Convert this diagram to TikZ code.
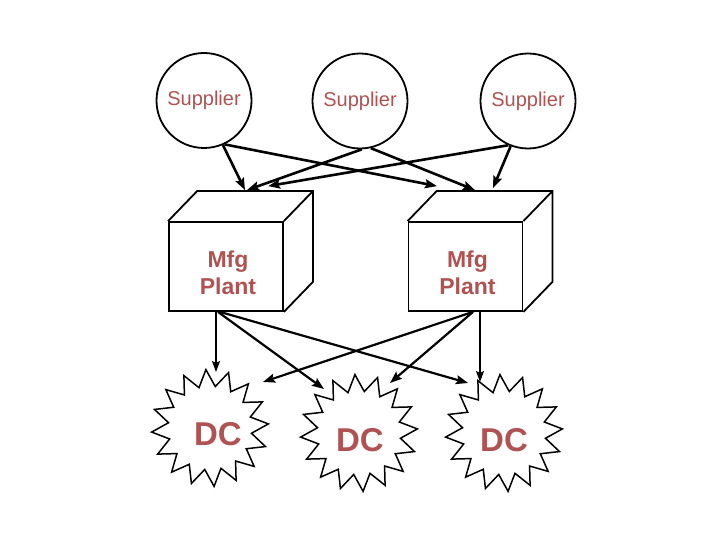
\documentclass[tikz,border=0pt]{standalone}
\usepackage{fontspec}
\setmainfont{Liberation Sans}
\usetikzlibrary{shapes.geometric,arrows.meta,calc}
\definecolor{txt}{RGB}{176,82,82}
\tikzset{
  supp/.style={circle,draw,line width=1.8pt,minimum size=95pt,inner sep=0pt,
    font=\fontsize{20}{24}\selectfont,text=txt},
  face/.style={rectangle,draw,line width=1.8pt,minimum width=114pt,minimum height=89pt,inner sep=0pt},
  ptext/.style={font=\bfseries\fontsize{23}{27}\selectfont,text=txt,align=center,inner sep=0pt},
  dcstar/.style={star,star points=16,star point ratio=1.4,shape border rotate=4,draw,line width=1.5pt,
    minimum size=117pt,inner sep=0pt},
  dctext/.style={font=\bfseries\fontsize{33}{36}\selectfont,text=txt,inner sep=0pt},
  thick arrow/.style={line width=2.6pt,-{Stealth[length=12pt,width=9pt,inset=2pt]}},
  mid arrow/.style={line width=2.2pt,-{Stealth[length=12pt,width=9pt,inset=2pt]}},
  thin arrow/.style={line width=1.3pt,-{Stealth[length=11pt,width=8pt,inset=2pt]}},
}
\newcommand{\cubesides}[1]{%
  \draw[line width=1.8pt,line join=miter]
    (#1.north west) -- ++(29,-30) -- ($(#1.north east)+(29,-30)$) -- ($(#1.south east)+(29,-30)$) -- (#1.south east)
    (#1.north east) -- ++(29,-30);
}
\begin{document}
\begin{tikzpicture}[x=1pt,y=-1pt]
\useasboundingbox (0,0) rectangle (720,540);

% suppliers
\node[supp] (s1) at (204,100.5) {Supplier};
\node[supp] (s2) at (360,101) {Supplier};
\node[supp] (s3) at (528,101) {Supplier};

% plants
\node[face] (p1) at (226,266.5) {};
\node[face] (p2) at (465.5,266.5) {};
\cubesides{p1}
\cubesides{p2}
\node[ptext] (p1t) at (228,272.5) {Mfg\\Plant};
\node[ptext] (p2t) at (467.5,272.5) {Mfg\\Plant};

% DCs
\node[dcstar] (d1) at (210,428) {};
\node[dcstar] (d2) at (359,433) {};
\node[dcstar] (d3) at (504,433) {};
\node[dctext] (d1t) at (218,434) {DC};
\node[dctext] (d2t) at (360,440) {DC};
\node[dctext] (d3t) at (504,440) {DC};

% supplier -> plant
\draw[thick arrow] (s1.-67) -- ($(p1.north)+(19,-31)$);
\draw[thick arrow] (s1.-65) -- ($(p2.north)+(-28.5,-35)$);
\draw[thick arrow] (s2.-88) -- ($(p1.north)+(21,-31)$);
\draw[thick arrow] (s2.-77) -- ($(p2.north)+(9.5,-31)$);
\draw[thick arrow] (s3.-114) -- ($(p1.north)+(42,-35)$);
\draw[thick arrow] (s3.-111) -- ($(p2.north)+(27.5,-33)$);

% plant -> DC
\draw[thin arrow] ($(p1.south)+(-10,0)$) -- ($(d1.center)+(6,-56)$);
\draw[mid arrow] ($(p1.south)+(-8,0)$) -- ($(d2.center)+(-35,-44)$);
\draw[mid arrow] ($(p1.south)+(-6,0)$) -- ($(d3.center)+(-36,-50)$);
\draw[mid arrow] ($(p2.south)+(7.5,0)$) -- ($(d1.center)+(53,-46)$);
\draw[mid arrow] ($(p2.south)+(7.5,0)$) -- ($(d2.center)+(31,-50)$);
\draw[thin arrow] ($(p2.south)+(14.5,0)$) -- ($(d3.center)+(-24,-51)$);
\end{tikzpicture}
\end{document}
